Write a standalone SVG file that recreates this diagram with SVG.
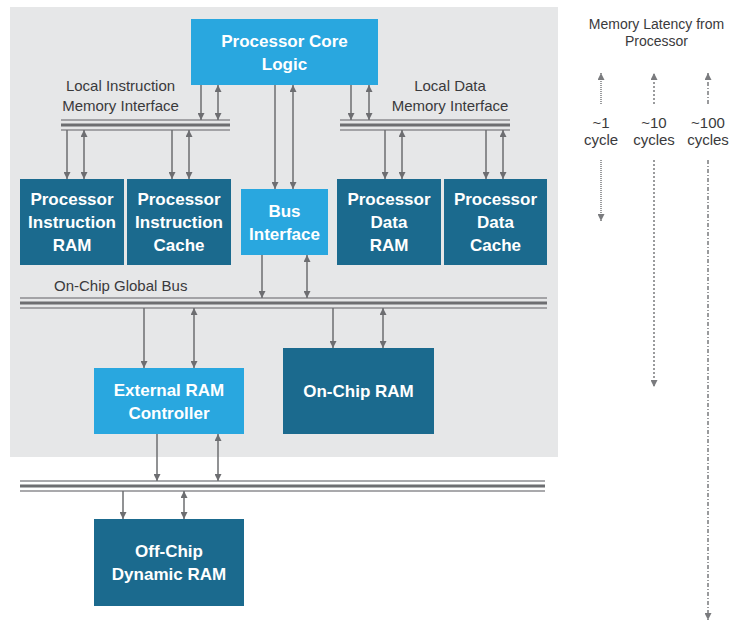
<svg xmlns="http://www.w3.org/2000/svg" width="733" height="624" viewBox="0 0 733 624">
<defs>
<marker id="ah" viewBox="0 0 8 8" refX="8" refY="4" markerWidth="7" markerHeight="7" markerUnits="userSpaceOnUse" orient="auto-start-reverse">
<path d="M0,0 L8,4 L0,8 z" fill="#6d6e71"/>
</marker>
<marker id="ahl" viewBox="0 0 8 8" refX="8" refY="4" markerWidth="7" markerHeight="7" markerUnits="userSpaceOnUse" orient="auto-start-reverse">
<path d="M0,0 L8,4 L0,8 z" fill="#7a7b7e"/>
</marker>
</defs>
<style>
text{font-family:"Liberation Sans",Arial,sans-serif;}
.dk{fill:#1b6a8e;}
.lt{fill:#29a7df;}
.bt{fill:#ffffff;font-size:17px;font-weight:bold;text-anchor:middle;}
.lb{fill:#3a3a3c;font-size:15px;}
.lc{text-anchor:middle;}
.ar{stroke:#6d6e71;stroke-width:1.5;fill:none;}
.one{marker-end:url(#ah);}
.two{marker-start:url(#ah);marker-end:url(#ah);}
.bo{stroke:#8c8d90;stroke-width:1.5;fill:none;}
.bm{stroke:#6d6e71;stroke-width:3;fill:none;}
.lat{stroke:#7a7b7e;stroke-width:1.5;fill:none;marker-end:url(#ahl);}
</style>
<rect x="0" y="0" width="733" height="624" fill="#ffffff"/>
<rect id="chip" x="10" y="7" width="548" height="450" fill="#e6e7e8"/>

<g id="buses">
<g id="bus-local-instr">
<line class="bo" x1="61" y1="120" x2="230" y2="120"/><line class="bm" x1="61" y1="125" x2="230" y2="125"/><line class="bo" x1="61" y1="130" x2="230" y2="130"/>
</g>
<g id="bus-local-data">
<line class="bo" x1="340" y1="120" x2="510" y2="120"/><line class="bm" x1="340" y1="125" x2="510" y2="125"/><line class="bo" x1="340" y1="130" x2="510" y2="130"/>
</g>
<g id="bus-global">
<line class="bo" x1="20" y1="298" x2="547" y2="298"/><line class="bm" x1="20" y1="303" x2="547" y2="303"/><line class="bo" x1="20" y1="308" x2="547" y2="308"/>
</g>
<g id="bus-offchip">
<line class="bo" x1="20" y1="481" x2="545" y2="481"/><line class="bm" x1="20" y1="486" x2="545" y2="486"/><line class="bo" x1="20" y1="491" x2="545" y2="491"/>
</g>
</g>

<g id="connectors">
<line class="ar one" x1="201" y1="85" x2="201" y2="120"/>
<line class="ar two" x1="218" y1="85" x2="218" y2="120"/>
<line class="ar one" x1="67" y1="130" x2="67" y2="179"/>
<line class="ar two" x1="84" y1="130" x2="84" y2="179"/>
<line class="ar one" x1="172" y1="130" x2="172" y2="179"/>
<line class="ar two" x1="189" y1="130" x2="189" y2="179"/>
<line class="ar one" x1="275" y1="85" x2="275" y2="189"/>
<line class="ar two" x1="293" y1="85" x2="293" y2="189"/>
<line class="ar one" x1="351" y1="85" x2="351" y2="120"/>
<line class="ar two" x1="369" y1="85" x2="369" y2="120"/>
<line class="ar one" x1="385" y1="130" x2="385" y2="179"/>
<line class="ar two" x1="402" y1="130" x2="402" y2="179"/>
<line class="ar one" x1="486" y1="130" x2="486" y2="179"/>
<line class="ar two" x1="503" y1="130" x2="503" y2="179"/>
<line class="ar one" x1="262" y1="255" x2="262" y2="298"/>
<line class="ar two" x1="307" y1="255" x2="307" y2="298"/>
<line class="ar one" x1="144" y1="308" x2="144" y2="368"/>
<line class="ar two" x1="194" y1="308" x2="194" y2="368"/>
<line class="ar one" x1="333" y1="308" x2="333" y2="348"/>
<line class="ar two" x1="383" y1="308" x2="383" y2="348"/>
<line class="ar one" x1="157" y1="434" x2="157" y2="481"/>
<line class="ar two" x1="218" y1="434" x2="218" y2="481"/>
<line class="ar one" x1="123" y1="491" x2="123" y2="519"/>
<line class="ar two" x1="184" y1="491" x2="184" y2="519"/>
</g>

<g id="core">
<rect class="lt" x="191" y="19" width="187" height="66"/>
<text class="bt" x="284.5" y="46.5">Processor Core</text>
<text class="bt" x="284.5" y="69.5">Logic</text>
</g>
<g id="instr-ram">
<rect class="dk" x="20" y="179" width="104" height="86"/>
<text class="bt" x="72" y="204.5">Processor</text>
<text class="bt" x="72" y="227.5">Instruction</text>
<text class="bt" x="72" y="250.5">RAM</text>
</g>
<g id="instr-cache">
<rect class="dk" x="127" y="179" width="104" height="86"/>
<text class="bt" x="179" y="204.5">Processor</text>
<text class="bt" x="179" y="227.5">Instruction</text>
<text class="bt" x="179" y="250.5">Cache</text>
</g>
<g id="bus-interface">
<rect class="lt" x="241" y="189" width="87" height="66"/>
<text class="bt" x="284.5" y="216.5">Bus</text>
<text class="bt" x="284.5" y="239.5">Interface</text>
</g>
<g id="data-ram">
<rect class="dk" x="337" y="179" width="104" height="86"/>
<text class="bt" x="389" y="204.5">Processor</text>
<text class="bt" x="389" y="227.5">Data</text>
<text class="bt" x="389" y="250.5">RAM</text>
</g>
<g id="data-cache">
<rect class="dk" x="444" y="179" width="103" height="86"/>
<text class="bt" x="495.5" y="204.5">Processor</text>
<text class="bt" x="495.5" y="227.5">Data</text>
<text class="bt" x="495.5" y="250.5">Cache</text>
</g>
<g id="ext-ram-ctrl">
<rect class="lt" x="94" y="368" width="150" height="66"/>
<text class="bt" x="169" y="395.5">External RAM</text>
<text class="bt" x="169" y="418.5">Controller</text>
</g>
<g id="onchip-ram">
<rect class="dk" x="283" y="348" width="151" height="86"/>
<text class="bt" x="358.5" y="397">On-Chip RAM</text>
</g>
<g id="offchip-dram">
<rect class="dk" x="94" y="519" width="150" height="87"/>
<text class="bt" x="169" y="557">Off-Chip</text>
<text class="bt" x="169" y="580">Dynamic RAM</text>
</g>

<g id="labels">
<text class="lb lc" x="120.5" y="91">Local Instruction</text>
<text class="lb lc" x="120.5" y="111">Memory Interface</text>
<text class="lb lc" x="450" y="91">Local Data</text>
<text class="lb lc" x="450" y="111">Memory Interface</text>
<text class="lb" x="54" y="291">On-Chip Global Bus</text>
</g>

<g id="latency">
<text class="lb lc" x="656.5" y="29" style="font-size:14px">Memory Latency from</text>
<text class="lb lc" x="656.5" y="46" style="font-size:14px">Processor</text>
<line class="lat" x1="601" y1="104" x2="601" y2="73" stroke-dasharray="1 1"/>
<line class="lat" x1="654" y1="104" x2="654" y2="73" stroke-dasharray="2 2"/>
<line class="lat" x1="708" y1="104" x2="708" y2="73" stroke-dasharray="4 2 1 2"/>
<text class="lb lc" x="601" y="128">~1</text>
<text class="lb lc" x="601" y="145">cycle</text>
<text class="lb lc" x="654" y="128">~10</text>
<text class="lb lc" x="654" y="145">cycles</text>
<text class="lb lc" x="708" y="128">~100</text>
<text class="lb lc" x="708" y="145">cycles</text>
<line class="lat" x1="601" y1="160" x2="601" y2="221" stroke-dasharray="1 1"/>
<line class="lat" x1="654" y1="160" x2="654" y2="387" stroke-dasharray="2 2"/>
<line class="lat" x1="708" y1="160" x2="708" y2="620" stroke-dasharray="4 2 1 2"/>
</g>
</svg>
